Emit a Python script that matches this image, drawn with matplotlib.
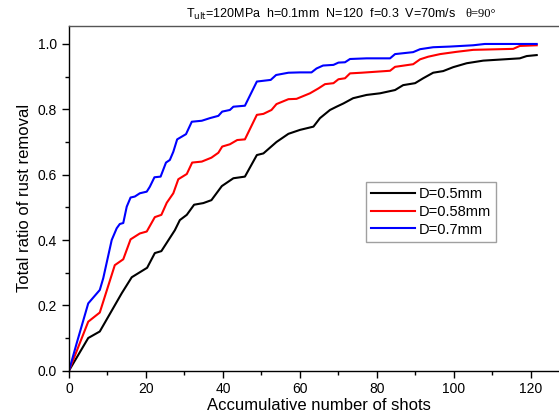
import matplotlib.pyplot as plt
from matplotlib.ticker import MultipleLocator, FormatStrFormatter

plt.rcParams['font.family'] = ['Liberation Sans', 'DejaVu Sans']

# Curves (shots, ratio)
x_05 = [0, 5, 8, 13.7, 16.3, 20.3, 22.3, 24, 27.5, 28.8, 30.6, 32.5, 34.9, 37, 39.7,
        42.7, 45.7, 48.8, 50.5, 53.9, 57, 60, 63.5, 65.2, 67.8, 69.5, 71.3, 73.8, 77.3,
        80.8, 84.7, 86.8, 89.9, 92, 94.6, 97.2, 99.8, 103.3, 107.6, 117.1, 118.9, 121.5]
y_05 = [0, 0.10, 0.12, 0.237, 0.286, 0.315, 0.36, 0.366, 0.43, 0.461, 0.477, 0.508,
        0.513, 0.522, 0.565, 0.589, 0.594, 0.66, 0.665, 0.70, 0.725, 0.737, 0.747, 0.773,
        0.798, 0.808, 0.818, 0.834, 0.844, 0.849, 0.859, 0.874, 0.88, 0.895, 0.912, 0.917,
        0.929, 0.941, 0.949, 0.956, 0.963, 0.966]

x_058 = [0, 5, 8, 11.9, 14.1, 16, 18.4, 20.2, 22.3, 24, 25.4, 27.1, 28.4, 30.6, 32, 34.5,
         37, 38.8, 39.8, 41.8, 43.7, 45.7, 48.8, 50.5, 52.6, 53.9, 57, 59.1, 62.6, 64.8,
         66.5, 68.7, 70, 71.7, 73, 76, 83.4, 84.7, 89.4, 91.2, 93.3, 96.4, 100.7, 105,
         115.4, 117.1, 121.5]
y_058 = [0, 0.15, 0.178, 0.323, 0.341, 0.402, 0.42, 0.426, 0.47, 0.477, 0.514, 0.543,
         0.586, 0.602, 0.637, 0.64, 0.652, 0.667, 0.686, 0.693, 0.706, 0.708, 0.783, 0.786,
         0.798, 0.816, 0.831, 0.832, 0.849, 0.864, 0.877, 0.880, 0.892, 0.895, 0.91, 0.912,
         0.918, 0.93, 0.938, 0.953, 0.961, 0.969, 0.976, 0.982, 0.985, 0.994, 0.996]

x_07 = [0, 2, 5, 8, 8.9, 11.1, 12.4, 13.2, 14.1, 15, 16, 17.1, 18.4, 20.2, 21, 22.2, 23.8,
        25.2, 26.2, 27.1, 28.1, 30.4, 31.9, 34.5, 36.6, 38.8, 39.8, 41.8, 42.7, 45.7,
        48.8, 52.4, 53.8, 57, 60, 63, 64.3, 66, 68.7, 70, 71.7, 73, 77.3, 83.4, 84.7,
        89.4, 91.2, 94.6, 98.9, 105, 108, 121.5]
y_07 = [0, 0.084, 0.206, 0.247, 0.283, 0.40, 0.436, 0.449, 0.452, 0.502, 0.53, 0.533,
        0.543, 0.548, 0.563, 0.592, 0.594, 0.637, 0.645, 0.67, 0.708, 0.724, 0.762, 0.765,
        0.773, 0.78, 0.793, 0.798, 0.808, 0.811, 0.885, 0.89, 0.905, 0.912, 0.913, 0.913,
        0.925, 0.934, 0.936, 0.943, 0.944, 0.954, 0.956, 0.956, 0.969, 0.975, 0.984, 0.99,
        0.992, 0.996, 1.0, 1.0]

fig = plt.figure(figsize=(5.59, 4.20), dpi=100)
ax = fig.add_axes([0.1234, 0.1174, 0.8953, 0.8207])

ax.plot(x_05, y_05, color='black', lw=1.5, label='D=0.5mm')
ax.plot(x_058, y_058, color='red', lw=1.5, label='D=0.58mm')
ax.plot(x_07, y_07, color='blue', lw=1.5, label='D=0.7mm')

ax.set_xlim(0, 130)
ax.set_ylim(0, 1.055)
ax.xaxis.set_major_locator(MultipleLocator(20))
ax.xaxis.set_minor_locator(MultipleLocator(10))
ax.yaxis.set_major_locator(MultipleLocator(0.2))
ax.yaxis.set_minor_locator(MultipleLocator(0.1))
ax.yaxis.set_major_formatter(FormatStrFormatter('%.1f'))
ax.tick_params(which='both', direction='out', labelsize=10, width=1)
ax.tick_params(which='major', length=5)
ax.tick_params(which='minor', length=3)
ax.spines['right'].set_visible(False)
for s in ['left', 'bottom', 'top']:
    ax.spines[s].set_linewidth(1.0)
ax.spines['top'].set_color('#555555')

ax.set_xlabel('Accumulative number of shots', fontsize=12, labelpad=1)
ax.set_ylabel('Total ratio of rust removal', fontsize=12, labelpad=4)

leg = ax.legend(loc='upper left', bbox_to_anchor=(0.593, 0.547), borderaxespad=0,
                fontsize=10.5, fancybox=False, edgecolor='#888888', handlelength=3,
                handletextpad=0.3, borderpad=0.35, labelspacing=0.25)
leg.get_frame().set_linewidth(1.0)

fig.text(186 / 559, 1 - 14 / 420, r'T$_{\rm ult}$=120MPa  h=0.1mm  N=120  f=0.3  V=70m/s',
         fontsize=9, va='center', ha='left')
fig.text(465 / 559, 1 - 14 / 420, '\u03b8=90\u00b0', fontsize=9, va='center', ha='left',
         family=['Liberation Serif', 'DejaVu Serif'])

fig.savefig('out.png', dpi=100)
